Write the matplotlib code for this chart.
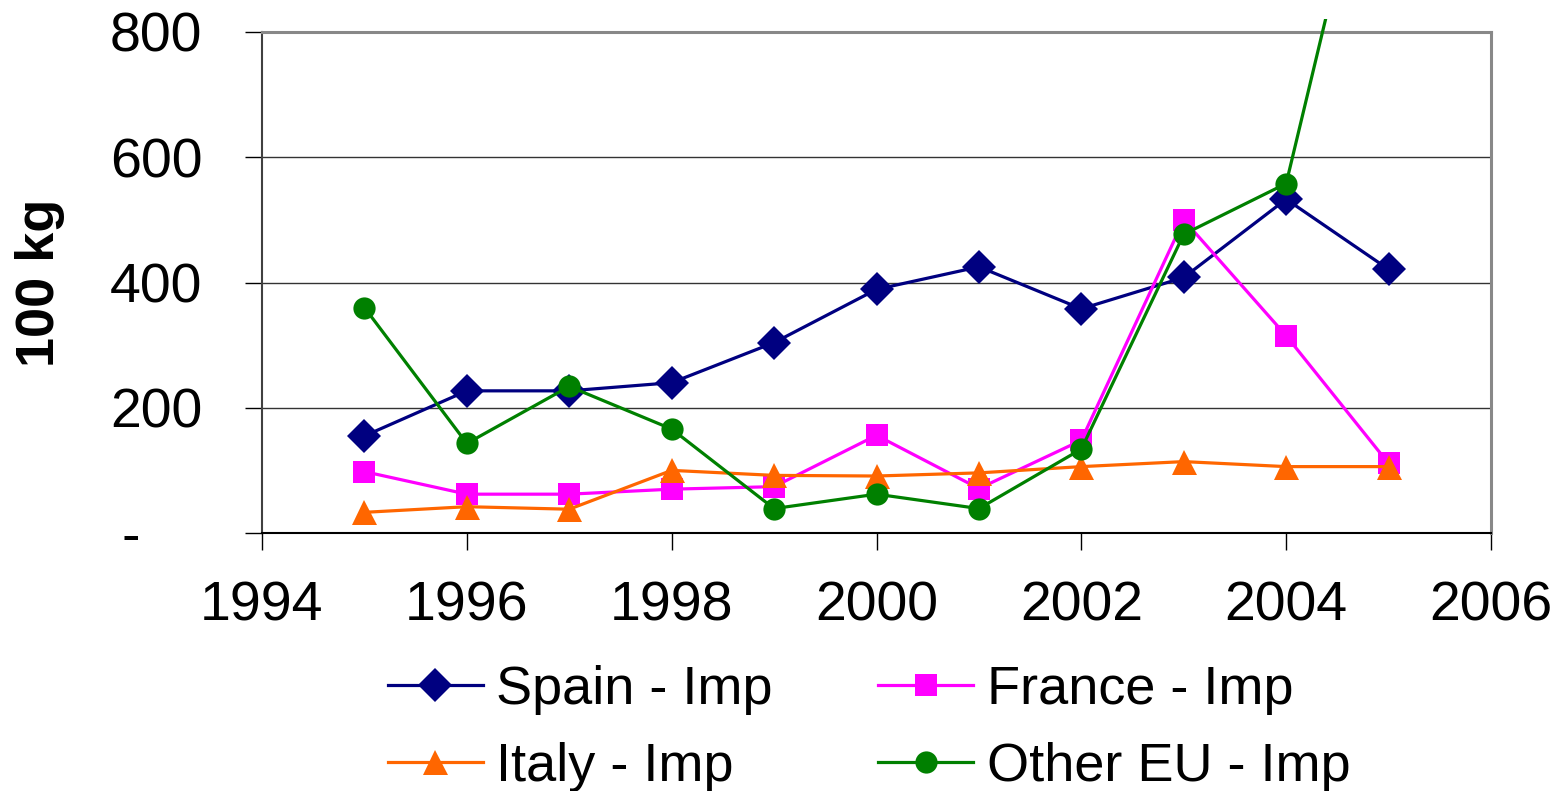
import matplotlib
matplotlib.use("Agg")
import matplotlib.pyplot as plt
from matplotlib.patches import Rectangle

plt.rcParams['font.family'] = ['Liberation Sans', 'DejaVu Sans']

# import volumes (100 kg) by origin
years = [1995, 1996, 1997, 1998, 1999, 2000, 2001, 2002, 2003, 2004, 2005]
spain = [155, 227, 227, 240, 304, 389, 425, 358, 408, 533, 421]
france = [98, 62, 62, 70, 74, 156, 71, 148, 500, 315, 111]
italy = [33, 42, 38, 100, 92, 91, 96, 106, 114, 106, 106]
other_eu = [360, 143, 234, 166, 39, 62, 39, 134, 477, 558, 1240]

series = [
    ('Spain - Imp', spain, '#000080', 'D', 17),
    ('France - Imp', france, '#FF00FF', 's', 15.5),
    ('Italy - Imp', italy, '#FF6600', '^', 18),
    ('Other EU - Imp', other_eu, '#008000', 'o', 16),
]

fig = plt.figure(figsize=(15.57, 7.91), dpi=100)
ax = fig.add_axes([262 / 1557, 1 - 533 / 791, (1491 - 262) / 1557, (533 - 32) / 791])

# let the lines run a little past the top of the plot frame
clip = Rectangle((-0.01, -0.05), 1.02, 1.075, transform=ax.transAxes)

handles = {}
for name, vals, col, mk, ms in series:
    ln, = ax.plot(years, vals, color=col, lw=2.3, marker=mk, markersize=ms,
                  markerfacecolor=col, markeredgecolor=col, markeredgewidth=0,
                  label=name, zorder=3)
    ln.set_clip_path(clip)
    handles[name] = ln

ax.set_xlim(1994, 2006)
ax.set_ylim(0, 800)
ax.set_xticks(range(1994, 2007, 2))
ax.set_yticks([0, 200, 400, 600, 800])
ax.set_yticklabels(['-    ', '200', '400', '600', '800'])

ax.tick_params(axis='both', labelsize=40, direction='out', length=12,
               width=1, color='black')
ax.tick_params(axis='y', pad=31)
ax.tick_params(axis='x', pad=22)

ax.set_axisbelow(True)
ax.grid(axis='y', color='#333333', lw=1)
ax.grid(axis='x', visible=False)

ax.spines['left'].set_color('#404040')
ax.spines['left'].set_linewidth(1.5)
ax.spines['bottom'].set_color('black')
ax.spines['bottom'].set_linewidth(1.5)
for s in ('top', 'right'):
    ax.spines[s].set_color('#888888')
    ax.spines[s].set_linewidth(2.2)

fig.text(40 / 1557, 1 - 283 / 791, '100 kg', rotation=90, fontsize=39,
         fontweight='bold', ha='center', va='center')

# two columns, filled row by row
order = ['Spain - Imp', 'Italy - Imp', 'France - Imp', 'Other EU - Imp']
fig.legend(handles=[handles[k] for k in order], ncol=2, loc='upper left',
           bbox_to_anchor=(388 / 1557, 1 - 665 / 791), frameon=False,
           fontsize=39, handlelength=1.75, handletextpad=0.25,
           columnspacing=1.95, labelspacing=0.5, borderpad=0,
           borderaxespad=0, markerscale=1.0)

fig.savefig('out.png', dpi=100)
